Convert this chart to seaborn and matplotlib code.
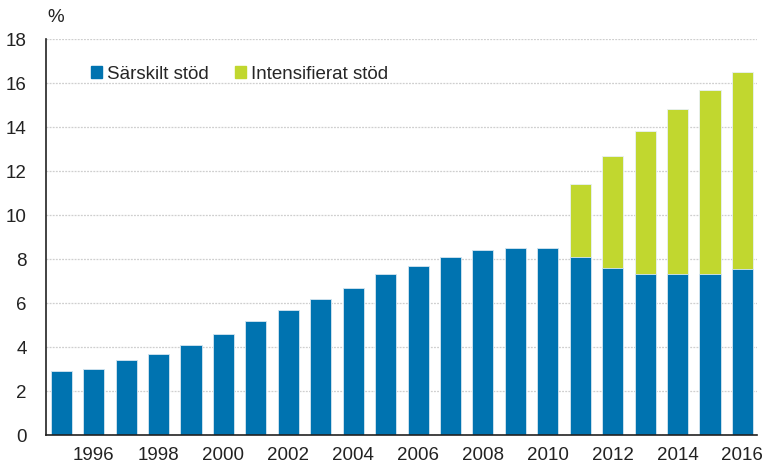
import pandas as pd
import matplotlib.pyplot as plt
import seaborn as sns
from matplotlib.patches import Patch

# --- data ---
years = list(range(1995, 2017))
sarskilt = [2.9, 3.0, 3.4, 3.7, 4.1, 4.6, 5.2, 5.7, 6.2, 6.7, 7.3,
            7.7, 8.1, 8.4, 8.5, 8.5, 8.1, 7.6, 7.3, 7.3, 7.3, 7.55]
intensifierat = [0, 0, 0, 0, 0, 0, 0, 0, 0, 0, 0,
                 0, 0, 0, 0, 0, 3.3, 5.1, 6.5, 7.5, 8.4, 8.95]
tick_years = list(range(1996, 2017, 2))

BLUE = '#0073B0'
GREEN = '#C1D72F'

df = pd.DataFrame({'Ar': years, 'sarskilt': sarskilt, 'intens': intensifierat})
df['total'] = df['sarskilt'] + df['intens']

sns.set_theme(style='white')
plt.rcParams['font.family'] = ['Liberation Sans', 'DejaVu Sans']

fig = plt.figure(figsize=(7.65, 4.67), dpi=100)
ax = fig.add_axes([46 / 765, 1 - 435 / 467, 711 / 765, 396 / 467])

# total first (green), blue drawn over it -> stacked look
sns.barplot(data=df, x='Ar', y='total', color=GREEN, saturation=1,
            width=0.65, edgecolor='#e8f0f6', linewidth=0.6, ax=ax)
sns.barplot(data=df, x='Ar', y='sarskilt', color=BLUE, saturation=1,
            width=0.65, edgecolor='#d8e8f3', linewidth=0.6, ax=ax)

ax.set_ylim(0, 18)
ax.set_xlim(-0.47, 21.45)
ax.set_yticks(range(0, 19, 2))
ax.set_xticks([years.index(y) for y in tick_years])
ax.set_xticklabels([str(y) for y in tick_years])
ax.set_xlabel('')
ax.set_ylabel('')
ax.tick_params(axis='both', length=0, labelsize=13.5, colors='#222222')
ax.tick_params(axis='x', pad=9)
ax.tick_params(axis='y', pad=14)

ax.yaxis.grid(True, color='#cfcfcf', linestyle=(0, (1.5, 1)), linewidth=0.9)
ax.set_axisbelow(True)
for s in ['top', 'right']:
    ax.spines[s].set_visible(False)
for s in ['left', 'bottom']:
    ax.spines[s].set_color('#222222')
    ax.spines[s].set_linewidth(1.2)

fig.text(47 / 765, 1 - 18 / 467, '%', fontsize=13.5, color='#222222', va='center')

handles = [Patch(color=BLUE, label='Särskilt stöd'),
           Patch(color=GREEN, label='Intensifierat stöd')]
ax.legend(handles=handles, loc='upper left', bbox_to_anchor=(0.04, 0.975),
          ncol=2, frameon=False, fontsize=13.5, handlelength=0.55,
          handleheight=0.55, handletextpad=0.3, columnspacing=1.4)

fig.savefig('out.png', dpi=100)
